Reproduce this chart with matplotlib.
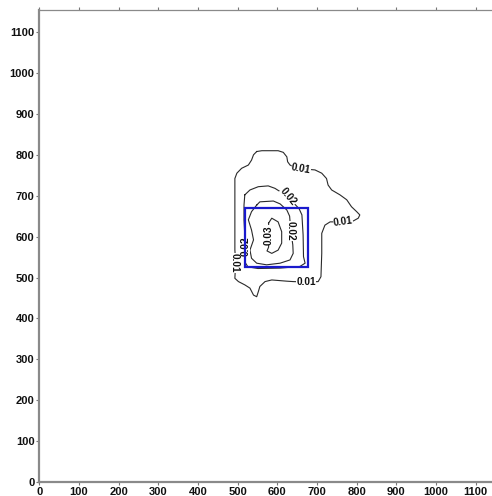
import matplotlib
matplotlib.use("Agg")
import matplotlib.pyplot as plt
from matplotlib.patches import Rectangle

# ---- isoline data (site coordinates, m) ----
iso_001_x = [548, 561, 602, 615, 624, 626, 632, 640, 660, 695, 712, 724, 728, 737, 758,
             775, 787, 800, 808, 804, 791, 766, 733, 720, 712, 712, 710, 703, 672, 640,
             624, 586, 569, 556, 552, 548, 540, 531, 518, 502, 493, 495, 493, 493, 493,
             498, 510, 527, 535, 540, 548]
iso_001_y = [808, 810, 810, 806, 795, 783, 775, 771, 766, 763, 755, 742, 726, 714, 702,
             690, 673, 661, 653, 645, 638, 636, 636, 628, 608, 559, 502, 490, 489, 490,
             491, 494, 490, 478, 465, 453, 457, 474, 482, 490, 498, 538, 567, 616, 742,
             755, 767, 775, 787, 800, 808]

iso_002_x = [518, 531, 552, 577, 594, 607, 627, 655, 662, 665, 666, 670, 657, 607, 551,
             526, 518, 517, 518, 516, 516, 518]
iso_002_y = [702, 714, 722, 724, 718, 710, 697, 668, 653, 604, 551, 535, 527, 523, 522,
             526, 538, 575, 602, 641, 677, 702]

iso_002b_x = [548, 556, 590, 607, 624, 631, 634, 639, 640, 632, 607, 573, 548, 535, 531,
              540, 535, 527, 535, 548]
iso_002b_y = [677, 685, 687, 680, 665, 650, 614, 580, 559, 543, 535, 531, 535, 547, 567,
              592, 616, 641, 661, 677]

iso_003_x = [578, 586, 602, 611, 611, 602, 586, 574, 578, 579, 578]
iso_003_y = [633, 645, 636, 612, 584, 567, 559, 565, 574, 604, 633]

contours = [
    (iso_001_x, iso_001_y),
    (iso_002_x, iso_002_y),
    (iso_002b_x, iso_002b_y),
    (iso_003_x, iso_003_y),
]

# isoline labels: text, anchor x, anchor y, rotation
label_text = ["0.01", "0.01", "0.01", "0.01", "0.02", "0.02", "0.02", "0.03"]
label_x = [660, 766, 672, 493, 627, 519, 634, 579]
label_y = [765, 636, 489, 536, 697, 577, 614, 604]
label_rot = [-10, 8, 0, -90, -50, 90, -90, 90]

# study area outline
area_x0, area_x1 = 519, 678
area_y0, area_y1 = 526, 669

ticks = list(range(0, 1200, 100))

W, H = 492, 496
fig = plt.figure(figsize=(W / 100, H / 100), dpi=100)
ax = fig.add_axes([39.3 / W, 14 / H, (W - 39.3) / W, 472 / H])
ax.set_xlim(0, (W - 39.3) / 0.3967)
ax.set_ylim(0, 472 / 0.409)

plt.rcParams['font.family'] = ['Liberation Sans', 'DejaVu Sans']

for xs, ys in contours:
    ax.plot(xs, ys, color="#2a2a2a", lw=0.8, zorder=2, solid_joinstyle="round")

for t, x, y, r in zip(label_text, label_x, label_y, label_rot):
    ax.text(x, y, t, rotation=r, ha="center", va="center", fontsize=7.2,
            fontweight="bold", family="Liberation Sans", color="#111111", zorder=3,
            rotation_mode="anchor",
            bbox=dict(facecolor="white", edgecolor="none", pad=0.05))

ax.add_patch(Rectangle((area_x0, area_y0), area_x1 - area_x0, area_y1 - area_y0,
                       fill=False, edgecolor="#1a1acc", lw=1.6, zorder=4))

ax.set_xticks(ticks)
ax.set_yticks(ticks)
ax.set_xticklabels([str(t) for t in ticks], fontsize=8, fontweight="bold",
                   family="Liberation Sans", color="#111111")
ax.set_yticklabels([str(t) for t in ticks], fontsize=8, fontweight="bold",
                   family="Liberation Sans", color="#111111")
ax.tick_params(axis="both", direction="out", length=2.5, width=0.8, color="#777777",
               pad=1)
ax.tick_params(axis="x", top=True, labeltop=False)

for side in ("left", "bottom"):
    ax.spines[side].set_color("#8a8a8a")
    ax.spines[side].set_linewidth(1.6)
ax.spines["top"].set_color("#8a8a8a")
ax.spines["top"].set_linewidth(0.9)
ax.spines["right"].set_visible(False)

fig.savefig("out.png", dpi=100, facecolor="white")
